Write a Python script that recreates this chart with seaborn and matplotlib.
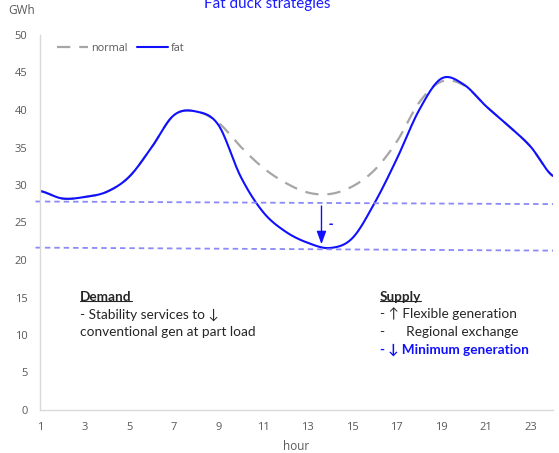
import numpy as np
import pandas as pd
import matplotlib
matplotlib.use("Agg")
import matplotlib.pyplot as plt
import seaborn as sns

# ---- data ----
hours = list(range(1, 25))
normal = [29.2, 28.2, 28.4, 29.1, 31.1, 35.0, 39.3, 39.8, 38.3, 35.1, 32.3, 30.3,
          29.0, 28.8, 29.8, 32.0, 35.8, 41.0, 43.8, 43.3, 40.5, 37.9, 35.1, 31.2]
fat = [29.2, 28.2, 28.4, 29.1, 31.1, 35.0, 39.3, 39.8, 38.0, 31.1, 26.4, 23.8,
       22.3, 21.6, 22.9, 27.6, 33.5, 40.0, 44.2, 43.4, 40.5, 37.9, 35.1, 31.2]
upper_level = [27.8, 27.45]   # dotted guide line, left / right ends
lower_level = [21.65, 21.25]
guide_x = [0.8, 24.0]
arrow_hour = 13.62
arrow_from, arrow_to = 27.2, 22.1
x_ticks = list(range(1, 24, 2))
y_ticks = list(range(0, 51, 5))

sns.set_theme(style="white")
plt.rcParams['font.family'] = ['Open Sans', 'DejaVu Sans']

def smooth(x, y, n=24):
    x = np.asarray(x, float); y = np.asarray(y, float)
    p = np.concatenate([[y[0]], y, [y[-1]]])
    xs, ys = [], []
    for i in range(len(y) - 1):
        P0, P1, P2, P3 = p[i], p[i + 1], p[i + 2], p[i + 3]
        t = np.linspace(0, 1, n, endpoint=False)
        ys.append(0.5 * (2 * P1 + (-P0 + P2) * t + (2 * P0 - 5 * P1 + 4 * P2 - P3) * t ** 2
                         + (-P0 + 3 * P1 - 3 * P2 + P3) * t ** 3))
        xs.append(x[i] + (x[i + 1] - x[i]) * t)
    xs.append([x[-1]]); ys.append([y[-1]])
    return np.concatenate(xs), np.concatenate(ys)

fig = plt.figure(figsize=(5.59, 4.53), dpi=100)
ax = fig.add_axes([40 / 559, 1 - 410 / 453, 513 / 559, 375 / 453])

nx, ny = smooth(hours, normal)
fx, fy = smooth(hours, fat)
sns.lineplot(x=nx, y=ny, ax=ax, color='#a6a6a6', lw=1.6, label='normal',
             estimator=None, sort=False)
ax.lines[-1].set_dashes([6, 4])
sns.lineplot(x=fx, y=fy, ax=ax, color='#1010ff', lw=1.5, label='fat',
             estimator=None, sort=False)

guide_kw = dict(color='#8a8af8', lw=1.3, dashes=[3, 2.2], clip_on=False)
ax.plot(guide_x, upper_level, **guide_kw)
ax.plot(guide_x, lower_level, **guide_kw)

ax.annotate('', xy=(arrow_hour, arrow_to), xytext=(arrow_hour, arrow_from),
            arrowprops=dict(arrowstyle='-|>,head_length=0.6,head_width=0.22',
                            color='#1010ff', lw=1.0,
                            mutation_scale=13, shrinkA=0, shrinkB=0))
ax.text(arrow_hour + 0.42, 24.7, '-', color='#1010ff', fontsize=9.5, fontweight='bold',
        ha='center', va='center')

ax.set_xlim(1, 24)
ax.set_ylim(0, 50)
ax.set_xticks(x_ticks)
ax.set_yticks(y_ticks)
ax.tick_params(axis='both', length=0, labelsize=8, labelcolor='#595959')
ax.tick_params(axis='y', pad=9)
ax.tick_params(axis='x', pad=9)
for s in ['top', 'right']:
    ax.spines[s].set_visible(False)
for s in ['left', 'bottom']:
    ax.spines[s].set_color('#d9d9d9')
    ax.spines[s].set_linewidth(1.0)
ax.set_xlabel('hour', fontsize=8.5, color='#595959', labelpad=5)
ax.set_ylabel('')

leg = ax.legend(loc='upper left', bbox_to_anchor=(0.015, 1.005), ncol=2, frameon=False,
                fontsize=7.8, handlelength=2.8, columnspacing=0.9, handletextpad=0.3)
for t in leg.get_texts():
    t.set_color('#595959')

fig.text(8 / 559, 1 - 10 / 453, 'GWh', fontsize=8.5, color='#595959', va='center', ha='left')
fig.text(267 / 559, 1 - 4 / 453, 'Fat duck strategies', fontsize=11, color='#1a1aff',
         va='center', ha='center', family=['Lato', 'DejaVu Sans'])

tf = ['Lato', 'DejaVu Sans']
def ftxt(x, y, s, **kw):
    kw.setdefault('color', '#262626')
    return fig.text(x / 559, 1 - y / 453, s, fontsize=9.8, va='center', ha='left',
                    family=tf, **kw)

d = ftxt(80, 297, 'Demand', fontweight='bold')
ftxt(80, 315, '- Stability services to \u2193')
ftxt(80, 332, 'conventional gen at part load')
sp = ftxt(380, 297, 'Supply', fontweight='bold')
ftxt(380, 314, '- \u2191 Flexible generation')
ftxt(380, 332, '-      Regional exchange')
ftxt(380, 350, '- \u2193 Minimum generation', color='#1010ff', fontweight='bold')

fig.canvas.draw()
r = fig.canvas.get_renderer()
for t in (d, sp):
    bb = t.get_window_extent(r).transformed(fig.transFigure.inverted())
    fig.add_artist(plt.Line2D([bb.x0, bb.x1], [bb.y0 + 0.004, bb.y0 + 0.004],
                              transform=fig.transFigure, color='#262626', lw=0.8))

fig.savefig('out.png', dpi=100)
